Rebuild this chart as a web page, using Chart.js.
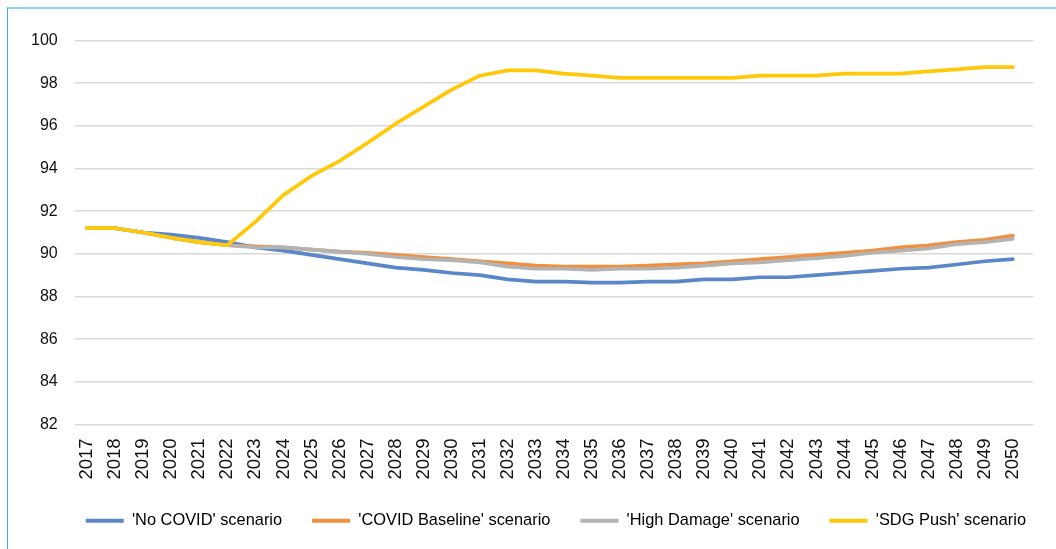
<!DOCTYPE html>
<html>
<head>
<meta charset="utf-8">
<script src="https://cdn.jsdelivr.net/npm/chart.js@4.4.1/dist/chart.umd.min.js"></script>
<style>
  html, body { margin: 0; padding: 0; background: #fff; }
  #wrap { position: relative; width: 1056px; height: 549px; overflow: hidden; }
  #frame { position: absolute; left: 7px; top: 7px; right: -10px; bottom: -10px;
           border-top: 2px solid #8dd3f0; border-left: 1.5px solid #3aaee2; pointer-events: none; }
  canvas { position: absolute; left: 0; top: 0; }
</style>
</head>
<body>
<div id="wrap">
  <canvas id="chart" width="1056" height="549"></canvas>
  <div id="frame"></div>
</div>
<script>
// Years on the horizontal axis
const years = [2017, 2018, 2019, 2020, 2021, 2022, 2023, 2024, 2025, 2026, 2027, 2028,
  2029, 2030, 2031, 2032, 2033, 2034, 2035, 2036, 2037, 2038, 2039, 2040, 2041, 2042,
  2043, 2044, 2045, 2046, 2047, 2048, 2049, 2050];

// Scenario series
const noCovid = [91.2, 91.2, 91.0, 90.9, 90.75, 90.55, 90.3, 90.15, 89.95, 89.75, 89.55, 89.35,
  89.25, 89.1, 89.0, 88.8, 88.7, 88.7, 88.65, 88.65, 88.7, 88.7, 88.8, 88.8, 88.9, 88.9,
  89.0, 89.1, 89.2, 89.3, 89.35, 89.5, 89.65, 89.75];
const covidBaseline = [91.2, 91.2, 91.0, 90.75, 90.55, 90.4, 90.35, 90.3, 90.2, 90.1, 90.05, 89.95,
  89.85, 89.75, 89.65, 89.55, 89.45, 89.4, 89.4, 89.4, 89.45, 89.5, 89.55, 89.65, 89.75, 89.85,
  89.95, 90.05, 90.15, 90.3, 90.4, 90.55, 90.65, 90.85];
const highDamage = [91.2, 91.2, 91.0, 90.75, 90.55, 90.4, 90.3, 90.3, 90.2, 90.1, 90.0, 89.85,
  89.75, 89.7, 89.6, 89.4, 89.3, 89.3, 89.25, 89.3, 89.3, 89.35, 89.45, 89.55, 89.6, 89.7,
  89.8, 89.9, 90.05, 90.15, 90.25, 90.45, 90.55, 90.7];
const sdgPush = [91.2, 91.2, 91.0, 90.75, 90.55, 90.4, 91.5, 92.75, 93.65, 94.35, 95.2, 96.1,
  96.9, 97.7, 98.35, 98.6, 98.6, 98.45, 98.35, 98.25, 98.25, 98.25, 98.25, 98.25, 98.35, 98.35,
  98.35, 98.45, 98.45, 98.45, 98.55, 98.65, 98.75, 98.75];

// Value axis
const yMin = 82;
const yMax = 100;
const yStep = 2;

const seriesNames = ["'No COVID' scenario", "'COVID Baseline' scenario", "'High Damage' scenario", "'SDG Push' scenario"];
const seriesColors = ['#5a87c8', '#f08f3e', '#b3b3b3', '#ffc90a'];
const seriesValues = [noCovid, covidBaseline, highDamage, sdgPush];

const FONT = "'Liberation Sans', Arial, sans-serif";

const datasets = seriesValues.map((vals, i) => ({
  label: seriesNames[i],
  data: vals.map((v, k) => ({ x: years[k], y: v })),
  borderColor: seriesColors[i],
  backgroundColor: seriesColors[i],
  borderWidth: 3.7,
  pointRadius: 0,
  tension: 0,
  fill: false,
  borderCapStyle: 'round',
  borderJoinStyle: 'round',
  order: seriesValues.length - i   // later series drawn on top
}));

// Nudge the legend row to the right of the plot's centre line
const legendShift = {
  id: 'legendShift',
  afterLayout(chart) {
    if (chart.legend) { chart.legend.left += 23; chart.legend.right += 23; }
  }
};

new Chart(document.getElementById('chart'), {
  type: 'line',
  data: { datasets },
  plugins: [legendShift],
  options: {
    responsive: false,
    animation: false,
    layout: { padding: { left: 14, right: 23, top: 40.5, bottom: 10 } },
    plugins: {
      tooltip: { enabled: false },
      legend: {
        position: 'bottom',
        align: 'end',
        labels: {
          font: { family: FONT, size: 16.4 },
          color: '#222',
          boxWidth: 38,
          boxHeight: 4,
          padding: 30,
          sort: (a, b) => a.datasetIndex - b.datasetIndex,
          generateLabels: (chart) => chart.data.datasets.map((ds, i) => ({
            text: ds.label,
            fillStyle: ds.borderColor,
            strokeStyle: ds.borderColor,
            lineWidth: 0,
            datasetIndex: i,
            hidden: false
          }))
        }
      }
    },
    scales: {
      x: {
        type: 'linear',
        min: years[0] - 0.44,
        max: years[years.length - 1] + 0.72,
        afterBuildTicks: (axis) => { axis.ticks = years.map(v => ({ value: v })); },
        afterFit: (axis) => { axis.height -= 11; },
        grid: { display: false, drawTicks: false },
        border: { display: false },
        ticks: {
          autoSkip: false,
          maxRotation: 90,
          minRotation: 90,
          padding: 14,
          color: '#111',
          font: { family: FONT, size: 18.5 },
          callback: (v) => String(v)
        }
      },
      y: {
        min: yMin,
        max: yMax,
        grid: { color: '#d9d9d9', lineWidth: 1.5, drawTicks: false },
        border: { display: false },
        ticks: {
          stepSize: yStep,
          padding: 17,
          color: '#111',
          font: { family: FONT, size: 16 }
        }
      }
    }
  }
});
</script>
</body>
</html>
